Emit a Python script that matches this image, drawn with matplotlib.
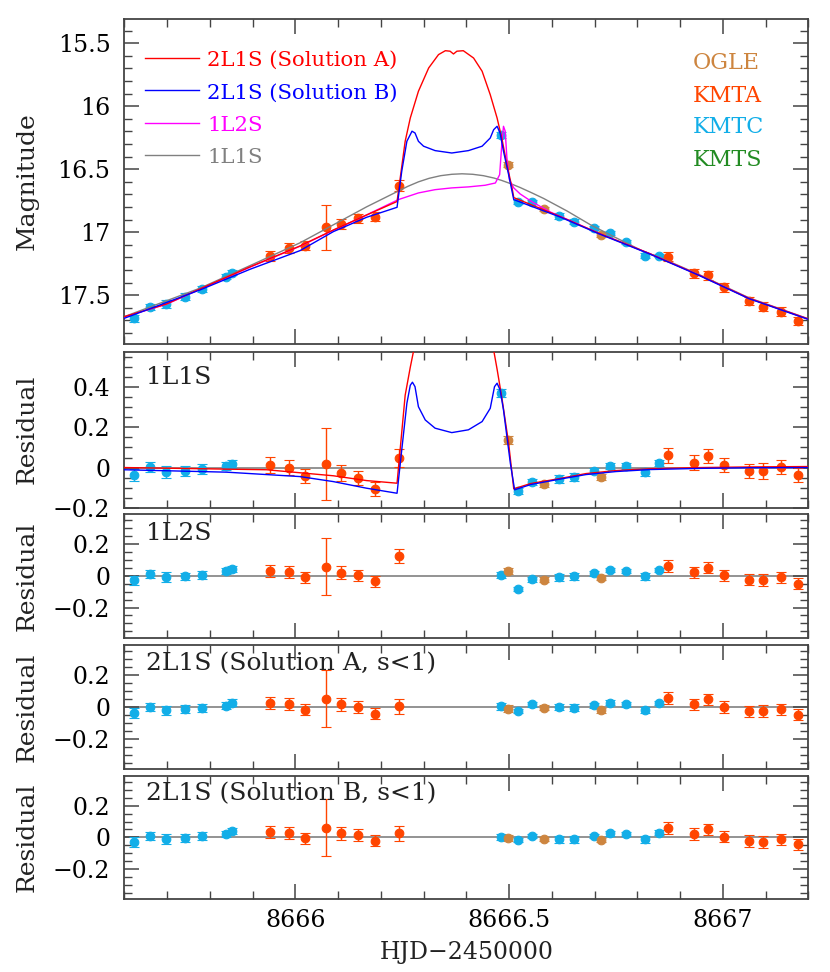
import numpy as np
import matplotlib
matplotlib.use('Agg')
import matplotlib.pyplot as plt
from matplotlib.ticker import MultipleLocator, FuncFormatter

plt.rcParams['font.family'] = ['DejaVu Serif']

# ---- data points ----
hjd = np.array([8665.623, 8665.660, 8665.697, 8665.743, 8665.782, 8665.838, 8665.851,
                8665.941, 8665.985, 8666.023, 8666.072, 8666.106, 8666.147, 8666.186, 8666.243,
                8666.482, 8666.497, 8666.521, 8666.554, 8666.582, 8666.618, 8666.653, 8666.698,
                8666.715, 8666.735, 8666.774, 8666.817, 8666.851,
                8666.872, 8666.933, 8666.966, 8667.002, 8667.061, 8667.095, 8667.137, 8667.176])
obs = np.array(['KMTC'] * 7 + ['KMTA'] * 8 +
               ['KMTC', 'OGLE', 'KMTC', 'KMTC', 'OGLE', 'KMTC', 'KMTC', 'KMTC', 'OGLE',
                'KMTC', 'KMTC', 'KMTC', 'KMTC'] + ['KMTA'] * 8)
mag = np.array([17.683, 17.595, 17.569, 17.511, 17.452, 17.352, 17.321,
                17.188, 17.127, 17.106, 16.960, 16.934, 16.889, 16.876, 16.630,
                16.228, 16.466, 16.757, 16.762, 16.817, 16.871, 16.916, 16.968,
                17.021, 17.008, 17.079, 17.185, 17.185,
                17.193, 17.325, 17.341, 17.437, 17.545, 17.590, 17.630, 17.704])
mag_err = np.array([0.03, 0.025, 0.03, 0.025, 0.025, 0.02, 0.02,
                    0.038, 0.038, 0.035, 0.18, 0.04, 0.035, 0.035, 0.045,
                    0.02, 0.02, 0.015, 0.015, 0.015, 0.02, 0.02, 0.015,
                    0.015, 0.015, 0.015, 0.02, 0.015,
                    0.037, 0.035, 0.035, 0.035, 0.035, 0.038, 0.035, 0.035])
res_1l1s = np.array([-0.036, 0.005, -0.020, -0.017, -0.008, 0.008, 0.020,
                     0.013, 0.000, -0.040, 0.017, -0.027, -0.053, -0.107, 0.048,
                     0.370, 0.138, -0.116, -0.070, -0.083, -0.058, -0.048, -0.015,
                     -0.048, 0.008, 0.010, -0.020, 0.025,
                     0.060, 0.025, 0.058, 0.011, -0.015, -0.017, 0.003, -0.035])
res_1l2s = np.array([-0.029, 0.012, -0.008, -0.004, 0.004, 0.029, 0.042,
                     0.033, 0.027, -0.008, 0.058, 0.021, 0.004, -0.033, 0.125,
                     0.006, 0.031, -0.083, -0.021, -0.025, -0.010, -0.004, 0.017,
                     -0.012, 0.037, 0.031, -0.004, 0.037,
                     0.062, 0.023, 0.050, 0.004, -0.025, -0.025, -0.010, -0.050])
res_2l1s_a = np.array([-0.038, 0.000, -0.021, -0.015, -0.006, 0.009, 0.028,
                       0.028, 0.021, -0.017, 0.053, 0.017, 0.000, -0.042, 0.004,
                       0.004, -0.010, -0.025, 0.017, -0.004, 0.000, -0.004, 0.011,
                       -0.021, 0.028, 0.017, -0.017, 0.025,
                       0.059, 0.017, 0.049, 0.000, -0.027, -0.027, -0.013, -0.048])
res_2l1s_b = np.array([-0.030, 0.010, -0.011, -0.006, 0.006, 0.023, 0.040,
                       0.035, 0.029, -0.006, 0.061, 0.025, 0.015, -0.021, 0.025,
                       0.004, -0.006, -0.017, 0.008, -0.011, -0.013, -0.013, 0.008,
                       -0.017, 0.025, 0.021, -0.013, 0.029,
                       0.061, 0.021, 0.052, 0.004, -0.023, -0.027, -0.011, -0.044])

# ---- model curves ----
sol_a_t = [8665.600, 8665.699, 8665.777, 8665.894, 8666.011, 8666.089, 8666.167, 8666.238,
           8666.257, 8666.269, 8666.288, 8666.312, 8666.335, 8666.351, 8666.362, 8666.370,
           8666.378, 8666.393, 8666.417, 8666.437, 8666.456, 8666.472, 8666.483, 8666.495,
           8666.507, 8666.511, 8666.620, 8666.710, 8666.827, 8666.944, 8667.061, 8667.201]
sol_a_mag = [17.670, 17.569, 17.450, 17.275, 17.109, 16.982, 16.863, 16.756,
             16.278, 16.093, 15.881, 15.696, 15.590, 15.559, 15.563, 15.585,
             15.563, 15.559, 15.617, 15.722, 15.908, 16.093, 16.252, 16.463,
             16.648, 16.725, 16.876, 17.008, 17.167, 17.339, 17.524, 17.690]

sol_b_t = [8665.600, 8665.777, 8665.894, 8666.011, 8666.089, 8666.167, 8666.238, 8666.249,
           8666.261, 8666.273, 8666.280, 8666.288, 8666.300, 8666.327, 8666.366, 8666.405,
           8666.437, 8666.456, 8666.464, 8666.472, 8666.479, 8666.487, 8666.499, 8666.511,
           8666.620, 8666.710, 8666.827, 8666.944, 8667.061, 8667.201]
sol_b_mag = [17.683, 17.458, 17.294, 17.146, 16.995, 16.881, 16.802, 16.516,
             16.278, 16.198, 16.212, 16.278, 16.317, 16.352, 16.371, 16.352,
             16.317, 16.252, 16.186, 16.159, 16.212, 16.357, 16.543, 16.741,
             16.880, 17.012, 17.170, 17.342, 17.527, 17.693]

m1l2s_t = [8665.600, 8665.699, 8665.777, 8665.894, 8666.011, 8666.089, 8666.167, 8666.241,
           8666.288, 8666.327, 8666.366, 8666.405, 8666.444, 8666.468, 8666.478, 8666.483,
           8666.487, 8666.491, 8666.495, 8666.501, 8666.511, 8666.526, 8666.542, 8666.557,
           8666.581, 8666.597, 8666.710, 8666.827, 8666.944, 8667.061, 8667.201]
m1l2s_mag = [17.672, 17.571, 17.452, 17.277, 17.111, 16.984, 16.862, 16.741,
             16.688, 16.662, 16.648, 16.640, 16.627, 16.609, 16.543, 16.305,
             16.159, 16.198, 16.410, 16.585, 16.648, 16.696, 16.732, 16.765,
             16.810, 16.840, 17.008, 17.167, 17.339, 17.524, 17.690]

m1l1s_t = [8665.600, 8665.777, 8665.894, 8666.011, 8666.089, 8666.167, 8666.238, 8666.263,
           8666.288, 8666.313, 8666.340, 8666.366, 8666.390, 8666.415, 8666.440, 8666.465,
           8666.483, 8666.505, 8666.526, 8666.555, 8666.581, 8666.636, 8666.690, 8666.745,
           8666.810, 8666.870, 8666.944, 8667.061, 8667.201]
m1l1s_mag = [17.670, 17.444, 17.265, 17.084, 16.941, 16.798, 16.678, 16.636,
             16.600, 16.572, 16.551, 16.540, 16.536, 16.540, 16.551, 16.570,
             16.589, 16.616, 16.645, 16.690, 16.732, 16.832, 16.940, 17.035,
             17.145, 17.225, 17.335, 17.520, 17.688]

# 2L1S models relative to 1L1S (residual panel)
r1_a_t = [8665.600, 8665.933, 8666.089, 8666.167, 8666.238, 8666.257, 8666.269, 8666.288,
          8666.335, 8666.378, 8666.417, 8666.456, 8666.472, 8666.483, 8666.499, 8666.511,
          8666.550, 8666.618, 8666.680, 8666.750, 8666.830, 8666.950, 8667.060, 8667.200]
r1_a = [0.0, -0.011, -0.041, -0.065, -0.078, 0.36, 0.50, 0.70,
        0.955, 0.95, 0.93, 0.68, 0.49, 0.35, 0.121, -0.106,
        -0.08, -0.055, -0.03, -0.015, -0.006, 0.0, 0.003, 0.005]
r1_b_t = [8665.600, 8665.839, 8666.011, 8666.089, 8666.167, 8666.238, 8666.249, 8666.261,
          8666.269, 8666.274, 8666.280, 8666.288, 8666.304, 8666.327, 8666.366, 8666.405,
          8666.437, 8666.456, 8666.466, 8666.472, 8666.479, 8666.487, 8666.495, 8666.503,
          8666.513, 8666.550, 8666.618, 8666.680, 8666.750, 8666.830, 8666.950, 8667.060,
          8667.200]
r1_b = [-0.011, -0.023, -0.045, -0.07, -0.103, -0.128, 0.088, 0.32,
        0.41, 0.425, 0.403, 0.303, 0.237, 0.196, 0.174, 0.188,
        0.229, 0.295, 0.403, 0.42, 0.387, 0.287, 0.154, 0.022,
        -0.111, -0.085, -0.058, -0.035, -0.02, -0.01, -0.004, -0.001,
        0.0]

obs_names = ['OGLE', 'KMTA', 'KMTC', 'KMTS']
obs_colors = {'OGLE': '#cd853f', 'KMTA': '#ff4500', 'KMTC': '#12aee8', 'KMTS': '#228b22'}
model_labels = ['2L1S (Solution A)', '2L1S (Solution B)', '1L2S', '1L1S']
model_colors = ['#ff0000', '#0000ff', '#ff00ff', '#808080']
panel_labels = ['1L1S', '1L2S', '2L1S (Solution A, s<1)', '2L1S (Solution B, s<1)']

W, H = 830, 972
fig = plt.figure(figsize=(W / 100, H / 100), dpi=100)


def px_axes(top, bottom, left=124.3, right=808.3):
    return fig.add_axes([left / W, 1 - bottom / H, (right - left) / W, (bottom - top) / H])


def tick_fmt(v, pos):
    v = round(v, 6)
    if abs(v) < 1e-9:
        return '0'
    return ('%g' % v).replace('-', '\u2212')


def style(ax, major_y, minor_y, show_x):
    ax.set_xlim(8665.6, 8667.2)
    ax.xaxis.set_major_locator(MultipleLocator(0.5))
    ax.xaxis.set_minor_locator(MultipleLocator(0.1))
    ax.yaxis.set_major_locator(MultipleLocator(major_y))
    ax.yaxis.set_minor_locator(MultipleLocator(minor_y))
    ax.yaxis.set_major_formatter(FuncFormatter(tick_fmt))
    ax.xaxis.set_major_formatter(FuncFormatter(tick_fmt))
    ax.tick_params(which='both', direction='in', top=True, right=True, color='#444444')
    ax.tick_params(which='major', length=11, width=1.1, labelsize=17)
    ax.tick_params(which='minor', length=5.5, width=1.0)
    ax.tick_params(axis='y', which='major', pad=10)
    ax.tick_params(axis='x', which='major', pad=7, labelbottom=show_x)
    for sp in ax.spines.values():
        sp.set_linewidth(1.3)
        sp.set_color('#444444')


def draw_points(ax, values):
    for name in ['KMTC', 'OGLE', 'KMTA']:
        sel = obs == name
        c = obs_colors[name]
        ax.errorbar(hjd[sel], values[sel], yerr=mag_err[sel], fmt='o', ms=6.2,
                    markeredgewidth=0.8, markeredgecolor=c, markerfacecolor=c,
                    ecolor=c, elinewidth=1, capsize=3.5, capthick=1, zorder=2)


# ---- top: light curve ----
ax0 = px_axes(18.7, 344)
draw_points(ax0, mag)
ax0.plot(m1l1s_t, m1l1s_mag, color=model_colors[3], lw=1.0, zorder=3)
ax0.plot(m1l2s_t, m1l2s_mag, color=model_colors[2], lw=1.0, zorder=3)
ax0.plot(sol_a_t, sol_a_mag, color=model_colors[0], lw=1.0, zorder=3)
ax0.plot(sol_b_t, sol_b_mag, color=model_colors[1], lw=1.0, zorder=3)
ax0.set_ylim(17.887, 15.305)
style(ax0, 0.5, 0.1, False)

legend_y = [66, 98.3, 130.7, 162.7]
for lab, col, yb in zip(model_labels, model_colors, legend_y):
    yc = 1 - (yb - 8 - 18.7) / 325.3
    ax0.plot([0.0303, 0.1092], [yc, yc], transform=ax0.transAxes, color=col, lw=1.0)
    fig.text(207 / W, 1 - yb / H, lab, color=col, fontsize=15.3, va='baseline')
obs_y = [69.3, 101.7, 133.3, 165.7]
for name, yb in zip(obs_names, obs_y):
    fig.text(693 / W, 1 - yb / H, name, color=obs_colors[name], fontsize=16, va='baseline')

# ---- residual panels ----
res_sets = [res_1l1s, res_1l2s, res_2l1s_a, res_2l1s_b]
boxes = [(351.7, 507.7), (514, 637.7), (645, 769), (775.7, 899)]
label_base = [384, 540, 670.7, 800]
axes = [ax0]
for k, (vals, (top, bot)) in enumerate(zip(res_sets, boxes)):
    ax = px_axes(top, bot)
    ax.axhline(0, color='#808080', lw=1.2, zorder=1)
    draw_points(ax, vals)
    if k == 0:
        ax.plot(r1_a_t, r1_a, color=model_colors[0], lw=1.0, zorder=3)
        ax.plot(r1_b_t, r1_b, color=model_colors[1], lw=1.0, zorder=3)
        ax.set_ylim(-0.2, 0.577)
    else:
        ax.set_ylim(-0.39, 0.39)
    style(ax, 0.2, 0.05, k == 3)
    fig.text(146 / W, 1 - label_base[k] / H, panel_labels[k], fontsize=18, va='baseline',
             color='#222222')
    fig.text(27.5 / W, 1 - (top + bot) / 2 / H, 'Residual', rotation=90, fontsize=18,
             ha='center', va='center', color='#222222')
    axes.append(ax)

fig.text(27.5 / W, 1 - (18.7 + 344) / 2 / H, 'Magnitude', rotation=90, fontsize=18,
         ha='center', va='center', color='#222222')
fig.text(466.3 / W, 1 - 952 / H, 'HJD\u22122450000', fontsize=17, ha='center', va='center',
         color='#222222')

fig.savefig('out.png', dpi=100)
